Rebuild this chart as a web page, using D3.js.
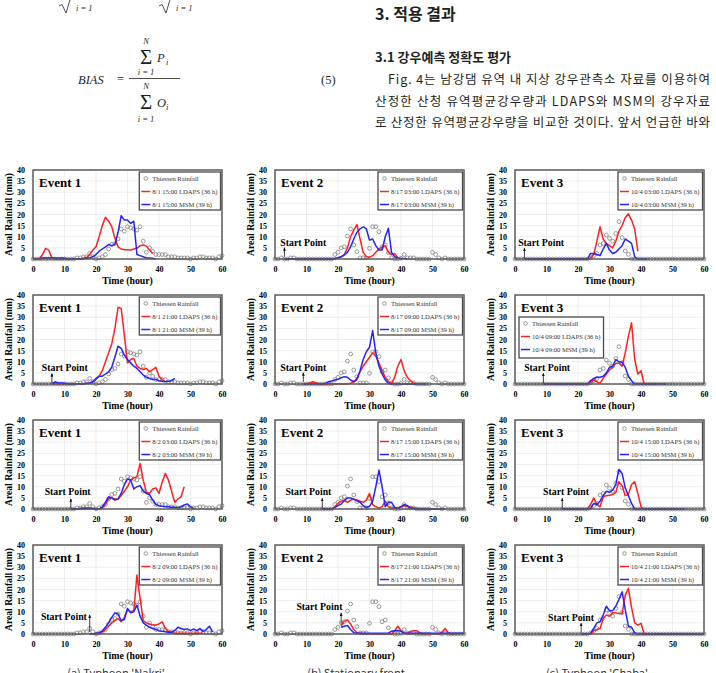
<!DOCTYPE html>
<html>
<head>
<meta charset="utf-8">
<script src="https://cdn.jsdelivr.net/npm/d3@7"></script>
<style>
  body { margin: 0; background: #fff; }
  svg { display: block; }
</style>
</head>
<body>
<svg id="fig" width="716" height="673"></svg>
<script>
// observed (Thiessen) areal rainfall, hours 0..60
var thiessenE1 = [0,0,0,0,0,0,0,0,0,0, 0,0,0,0,0.5,0.5,1,1,2.5,1, 0,0.5,1,2,4.5,6.5,7,9,13.5,12.5,
  14.5,14,13.5,13,14.5,8,3,5,3.5,2, 2,2,2,1,1,1,0.5,0.5,0.5,0.5, 0,0.5,0.5,1,1,0.5,0.5,0.5,0,1,1.5];
var thiessenE2 = [0,0,0.5,0,0,0.5,0.5,0,0,0, 0,0,0,0,0,0,0,0,0,2, 3,5,5.5,10.3,13.5,6.3,3.3,0.5,0.5,0.5,
  4.8,14.5,14.5,12.3,5.5,6.3,2.8,0.5,0,0, 0.3,2,0.5,0.5,0.5,0,0,0,0,0, 3,2,0.5,0,0.5,0,0,0,0,0,0];
var thiessenE3 = [0,0,0,0,0,0,0,0,0,0, 0,0,0,0,0,0,0,0,0,0, 0,0,0,0,0.5,1.5,2.5,6.3,7,10.8,
  9.3,8,11.5,16.8,9.6,3.6,2.1,0,0,0, 0,0,0,0,0,0,0,0,0,0, 0,0,0,0,0,0,0,0,0,0,0];

// LDAPS forecasts (36 h), one array per issue time, starting at ldapsStart
var ldapsE1 = [
  [0,2,4.8,4,0.5, 0,0,0,0,0,0,0,0,0,0, 0.5,2,4,5.5,10, 15,18.8,17,14.5,9.5, 5.5,4.5,4.2,4.2,4, 4.5,4.8,6,6.3,5.8, 4,2.5],
  [0,0,0,0,0,0,0,0,0,0,0, 0.3,0.5,1,2,3.5, 6,10,14,18,25, 34.5,34,22,9.5,11, 11.5,8,7,6.5,7, 5.5,6.5,7.5,3.5,2, 1],
  [0,0,0,0,0,0,0,0,0,0, 0.5,2,4.5,5,4.5, 4.5,6,8,10,13, 14,14.5,20.5,13,7.5, 7,9,9.5,7,12, 16,13,8,3,4.5, 5.5,10],
  [0,0,0,0, 1,2,3.5,5,6, 7,5.5,7.5,11,10, 10.5,26.5,16,6,5, 4.5,4,4,4.5,5.5, 2.5,1.2,0.8,0.5,0.3, 0.3,0.3,0.3,0.2,0.3, 0.5,0.3,0.3]
];
var ldapsE2 = [
  [0,0,0,0,0,0,0,0,0,0, 0,0,0,0,0,0,0, 0.5,1,2,5,10, 13,15.5,9,3,1, 0.8,1.5,3,4.5,5.5, 6,3,2,2.5,0.5],
  [0,0,0.5,1,0.5, 0,0,0,0,0,0,0,0,0,0, 0.3,1,2.5,5.5,8, 10,12,14,12.5,9.5, 6,3,1,0.3,3, 8,11,6,3,1.5, 0.5,0],
  [0,0,0,0, 1,2.5,3.5,4,3, 4,4.5,4,3.5,3, 4,7,2,1,0.5, 1,3.5,1,0.5,0.5, 0.5,1,1.5,1,0.8, 0.5,0.3, 0,0,0,0,0,0],
  [3.5,5.8,6.3,4.5,2, 0.6,0.3, 0,0,0,0,0,0,0,0,0,0, 1.5,3.5,1.5,0.5,0.3, 1,1.5,1.5,0.5, 0,0,0,0,0,0, 0.8,2.5,0.5,0,0]
];
var ldapsE3 = [
  [0,0,0,0,0,0,0,0,0,0, 0,0,0,0,0,0,0,0,0,0, 0, 0.5,2,8,14.5,9, 7,6,5,8,12.5, 15,18.5,20.3,17.5,13.5, 3.5],
  [0,0,0,0,0,0,0,0,0,0, 0,0,0,0,0, 0.5,1.8,1,0.3,2.5, 4.5,6.3,7.5,9.3,9.3, 8,14,21.5,27.5,11, 4.5,6,0, 0,0,0,0],
  [0,0,0,0,0,0,0,0,0, 2,5,2,1,5.5, 6,6.2,6.5,7.5,12.3, 10.5,6,6.5,11,12.3, 7,1,0, 0,0,0,0,0,0,0,0,0,0],
  [0,0,0, 0.2,1.5,2,2.5,7, 8.5,8,9.5,9.5,9.2, 9.2,17.5,20.5,12,5, 4,4.8,0, 0,0,0,0,0,0,0,0,0,0,0,0,0,0,0,0]
];

// MSM forecasts (39 h)
var msmE1 = [
  [0,0,0,0.5,0.5, 0.5,0.5,0.5,0.3,0.5, 0.3,0,0,0,0, 0,0.3,0.5,0.5,1, 2,3.5,4.5,5.5,6.5, 6,6.5,12,19.5,17.5, 17.5,16,17,2,1.5, 1,0.5,0.5,0.3,0],
  [0,1,0.5,0.5,0.3, 0,0,0,0,0,0, 0.3,0.3,1,2.5,3.5, 3.5,4.5,5.5,7.5,12, 17,16,13,11,9.5, 8,7,5.5,4,3, 2.5,2,2,1.5,1.2, 1,1.2,1.5,2.5],
  [0,0,0,0.3,0.5, 0.5,0.5,0.3,0,0, 1,3,5.5,5,4, 4.5,7,11,13.5,13, 9,10,10.5,8,7, 6.5,4,2,1.5,1.2, 1,1,0.8,0.8,0.5, 1,1.8,2.3,1,0.3],
  [0,0,0.3,0.6,1.2, 3,5,7.5,9.5,9, 6,6.5,11.5,9.5,10, 13,8,5,4,3, 2.5,2,1.5,1.2,1, 0.8,0.8,1.5,3,2.5, 2,2.3,1.5,2.3,1.5, 2.5,1.2,2,3.5,0.8]
];
var msmE2 = [
  [0,0,0,0,0,0,0,0,0,0,0,0,0,0,0,0, 0.3,0.6,1,1.8,3, 5.5,9,12,13.5,14.5, 13.5,8.5,9,6,4, 4,10,13.8,3,1, 0.5,0.3,0.2,0],
  [0,0,0,0,0,0,0, 0.3,1,1.3,1.8,2.1, 2.8,3.3,3,1.8,1, 2,6,11,14.5,16.5, 24,14,8,4.5,1.8, 0.3, 0,0,0,0,0,0,0,0,0,0,0,0],
  [0,0,0,0, 0.7,1.5,2.2,3.7,5, 5,4.3,3.7,3,1.5, 0.7,1.2,3.5,10,17.5, 10,1,3,3,0.7, 0.3,1,2,1.5,0.5, 0.3, 0,0,0,0,0,0,0,0,0,0],
  [3,3.5,3.8,2,0.6, 0.3,0.3,0.3,0.3,0.3,0.3,0.3,0.3,0.3,0.3, 0.5,1.2,1.5,1.6,1.2,0.3,
   0.3,0.3,0.3,0.3,0.3,0.3,0.3,0.3,0.3,0.3, 0.3,0.3,0.3,0.3,0.3,0.3,0.3,0.3,0.3]
];
var msmE3 = [
  [0,0,0,0,0,0,0,0,0,0, 0,0,0,0,0,0,0,0,0,0, 0, 2.5,2.5,2,1.5,4.5, 7,4,2.5,3,4.5, 6,9,8,7,1, 0,0,0,0],
  [0,0,0,0,0,0,0,0,0,0, 0,0,0,0,0, 1.5,2.5,3,3,3.5, 5,7.5,8,11,10, 9.8,7.5,3.5,1.5,0, 0,0,0,0,0,0,0,0,0,0],
  [0,0,0,0,0,0,0,0,0, 0.3,2.5,2,3.5,6, 8,7.5,8.5,11,17.8, 16,9.5,6,2.5,0, 0,0,0,0,0,0,0,0,0,0,0,0,0,0,0,0],
  [0,0,0, 0.3,2.5,5,5.5,8.5, 12.5,10.5,10.5,12.5,15.5, 19,11,3.5,3,0.5, 0, 0,0,0,0,0,0,0,0,0,0,0,0,0,0,0,0,0,0,0,0,0]
];

var events = ["Event 1", "Event 2", "Event 3"];
var issueTimes = [
  ["8/1 15:00", "8/1 21:00", "8/2 03:00", "8/2 09:00"],
  ["8/17 03:00", "8/17 09:00", "8/17 15:00", "8/17 21:00"],
  ["10/4 03:00", "10/4 09:00", "10/4 15:00", "10/4 21:00"]
];
var ldapsStart = [[2, 6, 12, 18], [3, 9, 15, 21], [3, 9, 15, 21]];
var msmStart = [[0, 6, 12, 18], [3, 9, 15, 21], [3, 9, 15, 21]];
var startPoint = [[null, 6, 12, 18], [3, 9, 15, 21], [3, 9, 15, 21]];
var captions = ["(a) Typhoon 'Nakri'", "(b) Stationary front", "(c) Typhoon 'Chaba'"];
var yTicks = [0, 5, 10, 15, 20, 25, 30, 35, 40];
var xTicks = [0, 10, 20, 30, 40, 50, 60];

var thiessen = [thiessenE1, thiessenE2, thiessenE3];
var ldaps = [ldapsE1, ldapsE2, ldapsE3];
var msm = [msmE1, msmE2, msmE3];

// "Start Point" label placement: text start (hour), baseline (mm), arrow [from, to] (mm)
var labelHour = [[0, 2.8, 3.7, 2.5], [1.7, 1.7, 3.3, 6.8], [1, 2.9, 8.9, 10.5]];
var labelMm = [[0, 6, 6.4, 6.3], [5.8, 6, 6.4, 11], [5.8, 6, 6.4, 5.8]];
var arrowMm = [
  [null, [0.5, 4.6], [0.4, 4.5], [0.9, 8.5]],
  [[1, 5], [1, 5], [0.4, 4.7], [4.5, 9.4]],
  [[0.4, 4.8], [0.4, 4.8], [0.4, 4.7], [0.6, 4.8]]
];

var serif = "'Liberation Serif','Times New Roman',serif";
var kr = "'Noto Sans CJK KR','Noto Sans',sans-serif";
var panelLeft = [33, 275, 515], panelTop = [170, 295, 420, 545];
var plotW = 189, plotH = 89;

var svg = d3.select("#fig");

var x = d3.scaleLinear().domain([0, 60]).range([0, plotW]);
var y = d3.scaleLinear().domain([0, 40]).range([plotH, 0]);
var line = d3.line().x(function(d) { return x(d.h); }).y(function(d) { return y(d.v); });

svg.append("defs").append("marker")
    .attr("id", "arrow")
    .attr("viewBox", "0 0 10 10")
    .attr("refX", 8).attr("refY", 5)
    .attr("markerWidth", 4.5).attr("markerHeight", 4.5)
    .attr("orient", "auto")
  .append("path")
    .attr("d", "M0,1 L10,5 L0,9 Z")
    .attr("fill", "#111");

function toPoints(start, vals) {
  return vals.map(function(v, i) { return { h: start + i, v: v }; });
}

function drawPanel(e, r) {
  var g = svg.append("g")
      .attr("transform", "translate(" + panelLeft[e] + "," + panelTop[r] + ")");

  // grid
  g.append("g").selectAll("line").data(yTicks.slice(1, -1)).enter().append("line")
      .attr("x1", 0).attr("x2", plotW)
      .attr("y1", function(d) { return y(d); }).attr("y2", function(d) { return y(d); })
      .attr("stroke", "#e6e6e6").attr("stroke-width", 0.7);
  g.append("g").selectAll("line").data(xTicks.slice(1, -1)).enter().append("line")
      .attr("y1", 0).attr("y2", plotH)
      .attr("x1", function(d) { return x(d); }).attr("x2", function(d) { return x(d); })
      .attr("stroke", "#e6e6e6").attr("stroke-width", 0.7);

  // axes
  var ya = g.append("g")
      .call(d3.axisLeft(y).tickValues(yTicks).tickSize(0).tickPadding(8))
      .attr("font-family", serif).attr("font-size", 8).attr("font-weight", "bold");
  ya.select(".domain").remove();
  var xa = g.append("g")
      .attr("transform", "translate(0," + plotH + ")")
      .call(d3.axisBottom(x).tickValues(xTicks).tickSize(0).tickPadding(7))
      .attr("font-family", serif).attr("font-size", 8).attr("font-weight", "bold");
  xa.select(".domain").remove();

  g.append("text")
      .attr("x", plotW / 2).attr("y", plotH + 24.5)
      .attr("text-anchor", "middle")
      .attr("font-family", serif).attr("font-size", 9.8).attr("font-weight", "bold")
      .text("Time (hour)");
  g.append("text")
      .attr("transform", "translate(-21," + (plotH / 2) + ") rotate(-90)")
      .attr("text-anchor", "middle")
      .attr("font-family", serif).attr("font-size", 9.6).attr("font-weight", "bold")
      .text("Areal Rainfall (mm)");

  // observed markers
  g.append("g").selectAll("circle")
      .data(toPoints(0, thiessen[e]))
      .enter().append("circle")
      .attr("cx", function(d) { return x(d.h); })
      .attr("cy", function(d) { return y(d.v); })
      .attr("r", 1.9)
      .attr("fill", "none")
      .attr("stroke", "#808080").attr("stroke-width", 0.8);

  g.append("path").datum(toPoints(ldapsStart[e][r], ldaps[e][r]))
      .attr("d", line).attr("fill", "none")
      .attr("stroke", "#ff2020").attr("stroke-width", 1.5).attr("stroke-linejoin", "round");
  g.append("path").datum(toPoints(msmStart[e][r], msm[e][r]))
      .attr("d", line).attr("fill", "none")
      .attr("stroke", "#2323ff").attr("stroke-width", 1.5).attr("stroke-linejoin", "round");

  // plot frame
  g.append("rect")
      .attr("width", plotW).attr("height", plotH)
      .attr("fill", "none").attr("stroke", "#5a5a5a").attr("stroke-width", 1.5);

  g.append("text")
      .attr("x", 6).attr("y", 17)
      .attr("font-family", serif).attr("font-size", 13).attr("font-weight", "bold")
      .text(events[e]);

  // start point
  if (startPoint[e][r] !== null) {
    g.append("text")
        .attr("x", x(labelHour[e][r])).attr("y", y(labelMm[e][r]))
        .attr("font-family", serif).attr("font-size", 9.8).attr("font-weight", "bold")
        .text("Start Point");
    g.append("line")
        .attr("x1", x(startPoint[e][r])).attr("x2", x(startPoint[e][r]))
        .attr("y1", y(arrowMm[e][r][0])).attr("y2", y(arrowMm[e][r][1]))
        .attr("stroke", "#111").attr("stroke-width", 0.8)
        .attr("marker-end", "url(#arrow)");
  }

  // legend
  var labels = ["Thiessen Rainfall",
                issueTimes[e][r] + " LDAPS (36 h)",
                issueTimes[e][r] + " MSM (39 h)"];
  var rowDy = [6.5, 19.5, 32.5];
  var lg = g.append("g");
  var box = lg.append("rect")
      .attr("fill", "#fff").attr("stroke", "#4a4a4a").attr("stroke-width", 1.3);
  var texts = lg.selectAll("text.lab").data(labels).enter().append("text")
      .attr("class", "lab")
      .attr("x", 13).attr("y", function(d, i) { return rowDy[i] + 2.3; })
      .attr("font-family", serif).attr("font-size", 6.6).attr("fill", "#333")
      .text(function(d) { return d; });
  var maxLen = d3.max(texts.nodes(), function(n) { return n.getComputedTextLength(); });
  var bw = 13 + maxLen + 3, bh = 38;
  box.attr("width", bw).attr("height", bh);
  lg.append("circle").attr("cx", 6.5).attr("cy", rowDy[0]).attr("r", 1.8)
      .attr("fill", "none").attr("stroke", "#808080").attr("stroke-width", 0.8);
  lg.append("line").attr("x1", 2).attr("x2", 11).attr("y1", rowDy[1]).attr("y2", rowDy[1])
      .attr("stroke", "#ff2020").attr("stroke-width", 1.5);
  lg.append("line").attr("x1", 2).attr("x2", 11).attr("y1", rowDy[2]).attr("y2", rowDy[2])
      .attr("stroke", "#2323ff").attr("stroke-width", 1.5);
  if (e === 2 && r === 1) {
    box.attr("height", 41);
    lg.attr("transform", "translate(4,22)");
  } else {
    lg.attr("transform", "translate(" + (plotW - 1.5 - bw) + ",2)");
  }
}

events.forEach(function(ev, e) {
  for (var r = 0; r < 4; r++) drawPanel(e, r);
});

// captions (cut by the page edge, as in the source page)
captions.forEach(function(c, i) {
  svg.append("text")
      .attr("x", [116, 356, 597][i]).attr("y", 677)
      .attr("text-anchor", "middle")
      .attr("font-family", kr).attr("font-size", 11).attr("fill", "#333")
      .text(c);
});

// ---- text above the figure ----
var header = svg.append("g").attr("fill", "#231f20");

[62, 162].forEach(function(x0) {
  header.append("path")
      .attr("d", "M" + (x0 - 3) + ",6 L" + x0 + ",4.5 L" + (x0 + 4) + ",13 L" + (x0 + 8.5) + ",-2")
      .attr("fill", "none").attr("stroke", "#231f20").attr("stroke-width", 0.8);
  header.append("text").attr("x", x0 + 14).attr("y", 11)
      .attr("font-family", serif).attr("font-style", "italic").attr("font-size", 8.5)
      .text("i = 1");
});

var fx = 146;
header.append("text").attr("x", 78).attr("y", 84)
    .attr("font-family", serif).attr("font-style", "italic").attr("font-size", 12.5)
    .text("BIAS");
header.append("text").attr("x", 117).attr("y", 83)
    .attr("font-family", serif).attr("font-size", 12.5).text("=");
header.append("line").attr("x1", 129).attr("x2", 180).attr("y1", 78.5).attr("y2", 78.5)
    .attr("stroke", "#231f20").attr("stroke-width", 0.8);
[[43.5, 64, 62, 75, "P"], [88.5, 109, 107, 121.5, "O"]].forEach(function(p) {
  header.append("text").attr("x", fx).attr("y", p[0]).attr("text-anchor", "middle")
      .attr("font-family", serif).attr("font-style", "italic").attr("font-size", 8.5).text("N");
  header.append("text").attr("x", fx).attr("y", p[1]).attr("text-anchor", "middle")
      .attr("font-family", serif).attr("font-size", 21).text("\u03A3");
  header.append("text").attr("x", 157).attr("y", p[2])
      .attr("font-family", serif).attr("font-style", "italic").attr("font-size", 12.5).text(p[4]);
  header.append("text").attr("x", 166).attr("y", p[2] + 3)
      .attr("font-family", serif).attr("font-style", "italic").attr("font-size", 8.5).text("i");
  header.append("text").attr("x", fx).attr("y", p[3]).attr("text-anchor", "middle")
      .attr("font-family", serif).attr("font-style", "italic").attr("font-size", 8.5).text("i = 1");
});
header.append("text").attr("x", 321).attr("y", 84)
    .attr("font-family", serif).attr("font-size", 12.5).text("(5)");

header.append("text").attr("x", 375).attr("y", 20)
    .attr("font-family", kr).attr("font-weight", "bold").attr("font-size", 16)
    .text("3. 적용 결과");
header.append("text").attr("x", 375).attr("y", 62)
    .attr("font-family", kr).attr("font-weight", "bold").attr("font-size", 13)
    .text("3.1 강우예측 정확도 평가");
var body = [
  [388, 84, "Fig. 4는 남강댐 유역 내 지상 강우관측소 자료를 이용하여"],
  [375, 105.5, "산정한 산청 유역평균강우량과 LDAPS와 MSM의 강우자료"],
  [375, 127, "로 산정한 유역평균강우량을 비교한 것이다. 앞서 언급한 바와"]
];
body.forEach(function(b) {
  header.append("text").attr("x", b[0]).attr("y", b[1])
      .attr("font-family", kr).attr("font-size", 12.5)
      .attr("textLength", 710 - b[0]).attr("lengthAdjust", "spacing")
      .text(b[2]);
});
</script>
</body>
</html>
